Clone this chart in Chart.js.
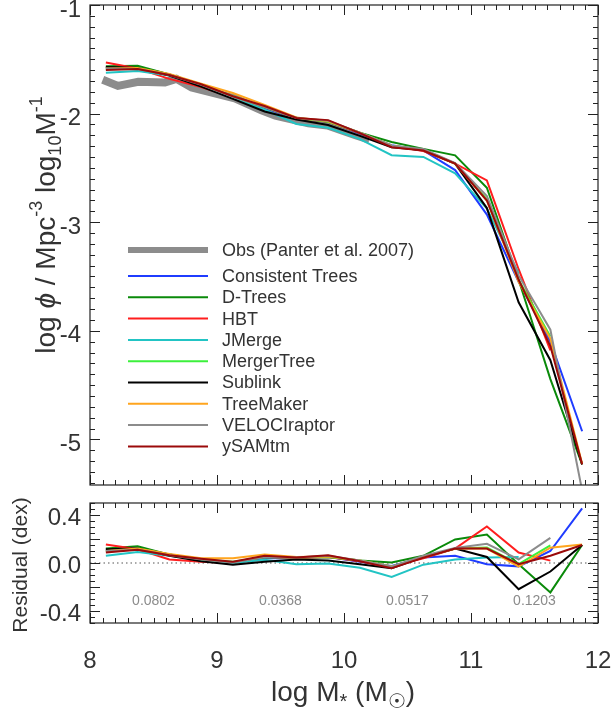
<!DOCTYPE html>
<html>
<head>
<meta charset="utf-8">
<script src="https://cdn.jsdelivr.net/npm/chart.js@4.4.0/dist/chart.umd.min.js"></script>
<style>
    html, body { margin: 0; padding: 0; background: #ffffff; }
    #wrap { position: relative; width: 613px; height: 712px; }
    #mf-box { position: absolute; left: 0; top: 0; }
    #res-box { position: absolute; left: 0; top: 495px; }
</style>
</head>
<body>
<div id="wrap">
    <div id="mf-box"><canvas id="mf-chart" width="613" height="490"></canvas></div>
    <div id="res-box"><canvas id="res-chart" width="613" height="217"></canvas></div>
</div>
<script>
// stellar mass bins (log M*)
const massBins = [8.125, 8.375, 8.625, 8.875, 9.125, 9.375, 9.625, 9.875,
                  10.125, 10.375, 10.625, 10.875, 11.125, 11.375, 11.625, 11.875];

// observed mass function (Panter et al. 2007)
const obsMass = [8.10, 8.22, 8.38, 8.59, 8.68, 8.80, 9.14, 9.35, 9.46, 9.72, 9.87, 10.09, 10.20];
const obsPhi = [-1.688, -1.745, -1.707, -1.713, -1.68, -1.76, -1.86, -1.97, -2.02, -2.09, -2.11, -2.20, -2.24];

// log phi for each merger tree code
const ctPhi = [-1.575, -1.572, -1.64, -1.735, -1.845, -1.95, -2.045, -2.075, -2.185, -2.291, -2.34, -2.52, -2.93, -3.548, -4.10, -4.925];
const dtPhi = [-1.565, -1.56, -1.64, -1.735, -1.85, -1.94, -2.04, -2.075, -2.175, -2.261, -2.325, -2.384, -2.683, -3.53, -4.445, -5.23];
const hbtPhi = [-1.53, -1.585, -1.68, -1.755, -1.85, -1.94, -2.045, -2.075, -2.18, -2.296, -2.345, -2.46, -2.615, -3.433, -4.18, null];
const jmPhi = [-1.625, -1.608, -1.65, -1.735, -1.85, -1.963, -2.095, -2.13, -2.235, -2.383, -2.399, -2.55, -2.875, -3.47, null, null];
const mtPhi = [-1.585, -1.58, -1.64, -1.735, -1.84, -1.94, -2.04, -2.075, -2.175, -2.296, -2.335, -2.46, -2.79, -3.53, -4.053, null];
const slPhi = [-1.57, -1.58, -1.65, -1.75, -1.865, -1.98, -2.055, -2.105, -2.205, -2.31, -2.335, -2.46, -2.87, -3.738, -4.271, -5.23];
const tmPhi = [-1.585, -1.58, -1.635, -1.725, -1.81, -1.92, -2.035, -2.07, -2.175, -2.296, -2.335, -2.46, -2.80, -3.55, -4.073, -5.225];
const vrPhi = [-1.585, -1.59, -1.645, -1.735, -1.845, -1.94, -2.04, -2.065, -2.175, -2.296, -2.325, -2.455, -2.76, -3.49, -3.99, -5.47];
const ysPhi = [-1.598, -1.59, -1.645, -1.73, -1.84, -1.93, -2.04, -2.06, -2.18, -2.31, -2.34, -2.46, -2.80, -3.53, -4.14, -5.23];

// residuals (dex) against the observations
const ctRes = [0.11, 0.128, 0.07, 0.03, 0.005, 0.04, 0.04, 0.05, 0.01, -0.025, 0.045, 0.06, -0.01, -0.028, 0.10, 0.455];
const dtRes = [0.12, 0.14, 0.07, 0.03, 0.0, 0.05, 0.045, 0.05, 0.02, 0.005, 0.06, 0.196, 0.237, -0.01, -0.245, 0.15];
const hbtRes = [0.155, 0.115, 0.03, 0.01, 0.0, 0.05, 0.04, 0.05, 0.015, -0.03, 0.04, 0.12, 0.305, 0.087, 0.02, null];
const jmRes = [0.06, 0.092, 0.06, 0.03, 0.0, 0.027, -0.01, -0.005, -0.04, -0.117, -0.014, 0.03, 0.045, 0.05, null, null];
const mtRes = [0.10, 0.12, 0.07, 0.03, 0.01, 0.05, 0.045, 0.05, 0.02, -0.03, 0.05, 0.12, 0.13, -0.01, 0.147, null];
const slRes = [0.115, 0.12, 0.06, 0.015, -0.015, 0.01, 0.03, 0.02, -0.01, -0.044, 0.05, 0.12, 0.05, -0.218, -0.071, 0.15];
const tmRes = [0.10, 0.12, 0.075, 0.04, 0.04, 0.07, 0.05, 0.055, 0.02, -0.03, 0.05, 0.12, 0.12, -0.03, 0.127, 0.155];
const vrRes = [0.10, 0.11, 0.065, 0.03, 0.005, 0.05, 0.045, 0.06, 0.02, -0.03, 0.06, 0.125, 0.16, 0.03, 0.21, null];
const ysRes = [0.087, 0.11, 0.065, 0.035, 0.01, 0.06, 0.045, 0.065, 0.015, -0.044, 0.045, 0.12, 0.12, -0.01, 0.06, 0.15];

const modelNames = ['Consistent Trees', 'D-Trees', 'HBT', 'JMerge', 'MergerTree',
                    'Sublink', 'TreeMaker', 'VELOCIraptor', 'ySAMtm'];
const modelPhi = [ctPhi, dtPhi, hbtPhi, jmPhi, mtPhi, slPhi, tmPhi, vrPhi, ysPhi];
const modelRes = [ctRes, dtRes, hbtRes, jmRes, mtRes, slRes, tmRes, vrRes, ysRes];
const modelColors = ['#1f3cff', '#0a8a0a', '#ff1e1e', '#22c4c4', '#3cf03c',
                     '#000000', '#ffa51e', '#8c8c8c', '#9b0a0a'];

// rms scatter printed in the residual panel
const scatterX = [8.5, 9.5, 10.5, 11.5];
const scatterText = ['0.0802', '0.0368', '0.0517', '0.1203'];
const scatterY = -0.32;

const zeroLineX = [8, 12];
const zeroLineY = [0, 0];

const xTicks = [8, 9, 10, 11, 12];
const yTicksMf = [-1, -2, -3, -4, -5];
const yTicksRes = [0.4, 0.2, 0.0, -0.2, -0.4];

const FONT = "'Liberation Sans', Arial, 'DejaVu Sans', sans-serif";
const INK = '#333333';

function toPoints(xs, ys) {
    return xs.map((x, i) => ({ x: x, y: ys[i] }));
}

// stop label overflow from pushing the plot box around
function fixBox(size, key) {
    return s => {
        s[key] = size;
        s.paddingTop = 0; s.paddingBottom = 0;
        s.paddingLeft = 0; s.paddingRight = 0;
    };
}

// box with inward IDL-style ticks on all four sides
const idlFrame = {
    id: 'idlFrame',
    afterDatasetsDraw(chart, args, o) {
        const { ctx, chartArea: a } = chart;
        const xs = chart.scales.x;
        const ys = chart.scales.y;
        ctx.save();
        ctx.strokeStyle = '#222';
        ctx.lineWidth = 1.2;
        ctx.strokeRect(a.left, a.top, a.right - a.left, a.bottom - a.top);
        ctx.lineWidth = 1;

        const walk = (min, max, step, major, fn) => {
            const k0 = Math.ceil(min / step - 1e-6);
            const k1 = Math.floor(max / step + 1e-6);
            for (let k = k0; k <= k1; k++) {
                const v = k * step;
                const r = v / major;
                fn(v, Math.abs(r - Math.round(r)) < 1e-6);
            }
        };
        ctx.beginPath();
        walk(xs.min, xs.max, o.xMinor, o.xMajor, (v, big) => {
            const px = Math.round(xs.getPixelForValue(v)) + 0.5;
            const len = big ? 10 : 5;
            ctx.moveTo(px, a.bottom); ctx.lineTo(px, a.bottom - len);
            ctx.moveTo(px, a.top); ctx.lineTo(px, a.top + len);
        });
        walk(ys.min, ys.max, o.yMinor, o.yMajor, (v, big) => {
            const py = Math.round(ys.getPixelForValue(v)) + 0.5;
            const len = big ? 10 : 5;
            ctx.moveTo(a.left, py); ctx.lineTo(a.left + len, py);
            ctx.moveTo(a.right, py); ctx.lineTo(a.right - len, py);
        });
        ctx.stroke();
        ctx.restore();
    }
};

// text with sub/superscripts
function drawRich(ctx, parts, cx, cy, size, rotate) {
    ctx.save();
    ctx.translate(cx, cy);
    if (rotate) ctx.rotate(-Math.PI / 2);
    ctx.fillStyle = INK;
    ctx.textBaseline = 'alphabetic';
    const fontOf = p => (p.it ? 'italic ' : '') + Math.round(size * (p.s || 1)) + 'px ' + FONT;
    let total = 0;
    parts.forEach(p => { ctx.font = fontOf(p); total += ctx.measureText(p.t).width; });
    let x = -total / 2;
    const base = size * 0.36;
    parts.forEach(p => {
        ctx.font = fontOf(p);
        ctx.fillText(p.t, x, base + (p.dy || 0) * size);
        x += ctx.measureText(p.t).width;
    });
    ctx.restore();
}

const mfTitle = {
    id: 'mfTitle',
    afterDraw(chart) {
        drawRich(chart.ctx, [
            { t: 'log ' }, { t: 'ϕ', it: true }, { t: ' / Mpc' },
            { t: '-3', s: 0.65, dy: -0.45 }, { t: ' log' },
            { t: '10', s: 0.65, dy: 0.22 }, { t: 'M' }, { t: '-1', s: 0.65, dy: -0.45 }
        ], 45, 225, 28, true);
    }
};

const boxLegend = {
    id: 'boxLegend',
    afterDraw(chart, args, o) {
        const ctx = chart.ctx;
        ctx.save();
        ctx.font = o.size + 'px ' + FONT;
        ctx.fillStyle = INK;
        ctx.textBaseline = 'middle';
        chart.data.datasets.forEach((ds, i) => {
            const y = i === 0 ? o.y0 : o.y1 + (i - 1) * o.dy;
            ctx.strokeStyle = ds.borderColor;
            ctx.lineWidth = i === 0 ? 6 : 2;
            ctx.beginPath();
            ctx.moveTo(o.x0, y); ctx.lineTo(o.x1, y);
            ctx.stroke();
            ctx.fillText(ds.label, o.tx, y + 1);
        });
        ctx.restore();
    }
};

const resDecor = {
    id: 'resDecor',
    afterDraw(chart) {
        const ctx = chart.ctx;
        const xs = chart.scales.x, ys = chart.scales.y;
        ctx.save();
        ctx.font = '14px ' + FONT;
        ctx.fillStyle = '#8a8a8a';
        ctx.textAlign = 'center';
        ctx.textBaseline = 'middle';
        scatterX.forEach((v, i) => {
            ctx.fillText(scatterText[i], xs.getPixelForValue(v), ys.getPixelForValue(scatterY));
        });
        ctx.restore();
        drawRich(ctx, [{ t: 'Residual (dex)' }], 19, 70, 21, true);
        drawRich(ctx, [
            { t: 'log M' }, { t: '*', s: 0.7, dy: 0.25 }, { t: ' (M' },
            { t: '☉', s: 0.7, dy: 0.25 }, { t: ')' }
        ], 343, 196, 28, false);
    }
};

// ---- top panel: mass functions ----
const mfSets = [{
    label: 'Obs (Panter et al. 2007)',
    data: toPoints(obsMass, obsPhi),
    borderColor: '#8c8c8c',
    borderWidth: 8,
    order: 20
}];
modelNames.forEach((name, i) => {
    mfSets.push({
        label: name,
        data: toPoints(massBins, modelPhi[i]),
        borderColor: modelColors[i],
        borderWidth: 2,
        order: 10 - i
    });
});

new Chart(document.getElementById('mf-chart'), {
    type: 'line',
    data: { datasets: mfSets },
    options: {
        responsive: false,
        animation: false,
        events: [],
        elements: { point: { radius: 0 }, line: { tension: 0, fill: false } },
        layout: { padding: { left: 0, right: 15, top: 5, bottom: 0 } },
        scales: {
            x: {
                type: 'linear', min: 8, max: 12,
                grid: { display: false }, border: { display: false },
                ticks: { display: false },
                afterFit: fixBox(5, 'height')
            },
            y: {
                type: 'linear', min: -5.42, max: -1,
                grid: { display: false, drawTicks: false }, border: { display: false },
                ticks: { color: INK, font: { family: FONT, size: 24 }, padding: 9,
                         labelOffset: 5, callback: v => String(v) },
                afterBuildTicks: s => { s.ticks = yTicksMf.map(v => ({ value: v })); },
                afterFit: fixBox(90, 'width')
            }
        },
        plugins: {
            legend: { display: false },
            tooltip: { enabled: false },
            idlFrame: { xMinor: 0.1, xMajor: 1, yMinor: 0.1, yMajor: 1 },
            boxLegend: { x0: 128, x1: 208, tx: 222, y0: 250, y1: 276, dy: 21.3, size: 18 }
        }
    },
    plugins: [idlFrame, mfTitle, boxLegend]
});

// ---- bottom panel: residuals ----
const resSets = [{
    label: 'zero',
    data: toPoints(zeroLineX, zeroLineY),
    borderColor: '#555555',
    borderWidth: 1.2,
    borderDash: [1.5, 3],
    order: 20
}];
modelNames.forEach((name, i) => {
    resSets.push({
        label: name,
        data: toPoints(massBins, modelRes[i]),
        borderColor: modelColors[i],
        borderWidth: 2,
        order: 10 - i
    });
});

new Chart(document.getElementById('res-chart'), {
    type: 'line',
    data: { datasets: resSets },
    options: {
        responsive: false,
        animation: false,
        events: [],
        elements: { point: { radius: 0 }, line: { tension: 0, fill: false } },
        layout: { padding: { left: 0, right: 15, top: 8, bottom: 0 } },
        scales: {
            x: {
                type: 'linear', min: 8, max: 12,
                grid: { display: false, drawTicks: false }, border: { display: false },
                ticks: { color: INK, font: { family: FONT, size: 24 }, padding: 24,
                         maxRotation: 0, callback: v => String(v) },
                afterBuildTicks: s => { s.ticks = xTicks.map(v => ({ value: v })); },
                afterFit: fixBox(89, 'height')
            },
            y: {
                type: 'linear', min: -0.5, max: 0.5,
                grid: { display: false, drawTicks: false }, border: { display: false },
                ticks: { color: INK, font: { family: FONT, size: 24 }, padding: 9,
                         labelOffset: 3, callback: v => v.toFixed(1) },
                afterBuildTicks: s => { s.ticks = yTicksRes.map(v => ({ value: v })); },
                afterFit: fixBox(90, 'width')
            }
        },
        plugins: {
            legend: { display: false },
            tooltip: { enabled: false },
            idlFrame: { xMinor: 0.1, xMajor: 1, yMinor: 0.05, yMajor: 0.2 }
        }
    },
    plugins: [idlFrame, resDecor]
});
</script>
</body>
</html>
